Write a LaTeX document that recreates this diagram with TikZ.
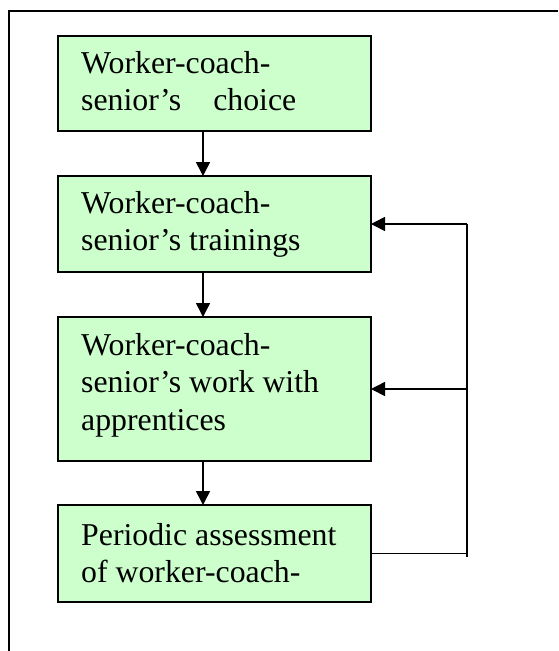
\documentclass[tikz,border=0pt]{standalone}
\usepackage{fontspec}
\setmainfont{Liberation Serif}
\usetikzlibrary{arrows.meta,calc}
\definecolor{boxgreen}{HTML}{CCFFCC}
\begin{document}
\begin{tikzpicture}[x=1pt,y=-1pt,
  box/.style={draw=black,line width=1.6pt,fill=boxgreen,outer sep=0pt,inner sep=0pt,minimum width=313pt,anchor=north west},
  txt/.style={anchor=base west,inner sep=0pt,align=left,font=\fontsize{31.8}{37.5}\selectfont},
  conn/.style={line width=1.6pt},
  arr/.style={line width=1.6pt,-{Triangle[length=14pt,width=14pt]}}]
\useasboundingbox (0,0) rectangle (558,651);
\draw[line width=1.8pt] (558,11) -- (9,11) -- (9,651);
\node[box,minimum height=95pt] (b1) at (58,36) {};
\node[box,minimum height=96pt] (b2) at (58,176) {};
\node[box,minimum height=144pt] (b3) at (58,317) {};
\node[box,minimum height=97pt] (b4) at (58,505) {};
% base anchor = baseline of the last line
\node[txt] (t1) at ($(b1.north west)+(23,74.5)$) {Worker-coach-\\senior's\hspace{32pt}choice};
\node[txt] (t2) at ($(b2.north west)+(23,74.5)$) {Worker-coach-\\senior's trainings};
\node[txt] (t3) at ($(b3.north west)+(23,113)$) {Worker-coach-\\senior's work with\\apprentices};
\node[txt] (t4) at ($(b4.north west)+(23,77.5)$) {Periodic assessment\\of worker-coach-};
\draw[arr] ([xshift=145pt]b1.south west) -- ([xshift=145pt]b2.north west);
\draw[arr] ([xshift=145pt]b2.south west) -- ([xshift=145pt]b3.north west);
\draw[arr] ([xshift=145pt]b3.south west) -- ([xshift=145pt]b4.north west);
\coordinate (fbtop) at (467,224);
\coordinate (fbbot) at (467,557);
\draw[conn] (fbtop) -- (fbbot);
\draw[conn] (b4.east) -- (b4.east -| fbbot);
\draw[arr] (b2.east -| fbtop) -- (b2.east);
\draw[arr] (b3.east -| fbtop) -- (b3.east);
\end{tikzpicture}
\end{document}
